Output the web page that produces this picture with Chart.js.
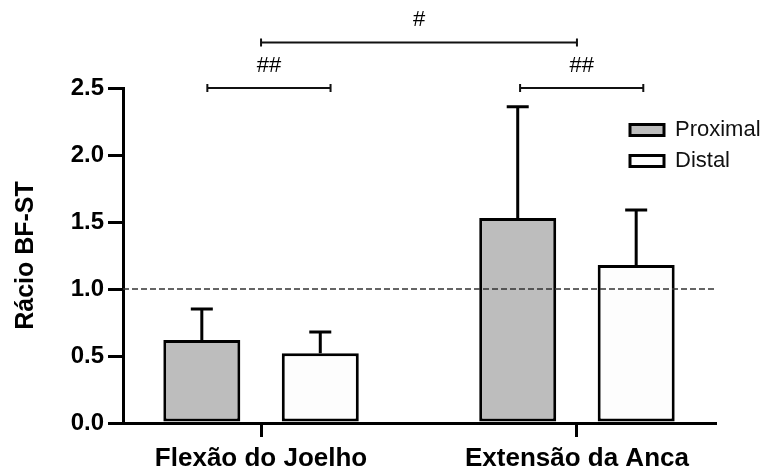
<!DOCTYPE html>
<html>
<head>
<meta charset="utf-8">
<script src="https://cdn.jsdelivr.net/npm/chart.js@4/dist/chart.umd.min.js"></script>
<style>
  html, body { margin: 0; padding: 0; background: #fff; }
  #wrap { width: 776px; height: 468px; }
</style>
</head>
<body>
<div id="wrap"><canvas id="c" width="776" height="468"></canvas></div>
<script>
const categories = ['Flexão do Joelho', 'Extensão da Anca'];
const seriesNames = ['Proximal', 'Distal'];
const proximalMean = [0.62, 1.53];
const proximalSD = [0.23, 0.83];
const distalMean = [0.52, 1.18];
const distalSD = [0.16, 0.41];
const yTicks = [0, 0.5, 1.0, 1.5, 2.0, 2.5];
const referenceValue = 1.0;
const yTitle = 'Rácio BF-ST';
// significance brackets: from/to in category units, level in y units
const brackets = [
  { from: -0.17, to: 0.22, level: 2.5, label: '##' },
  { from: 0.82, to: 1.21, level: 2.5, label: '##' },
  { from: 0, to: 1, level: 2.84, label: '#' }
];

const FONT = '"Liberation Sans", Arial, Helvetica, sans-serif';

const overlay = {
  id: 'overlay',
  afterLayout(chart) {
    const lg = chart.legend;
    if (!lg) return;
    const w = lg.width, h = lg.height;
    lg.left = 621; lg.right = lg.left + w;
    lg.top = 110; lg.bottom = lg.top + h;
  },
  afterDatasetsDraw(chart) {
    const { ctx, chartArea, scales: { x, y } } = chart;
    ctx.save();
    // reference dashed line
    const yr = y.getPixelForValue(referenceValue);
    ctx.setLineDash([6, 3]);
    ctx.lineWidth = 1.6;
    ctx.strokeStyle = '#333';
    ctx.beginPath();
    ctx.moveTo(chartArea.left, yr);
    ctx.lineTo(chartArea.right, yr);
    ctx.stroke();
    ctx.setLineDash([]);
    // error bars (upper only)
    chart.data.datasets.forEach((ds, di) => {
      const meta = chart.getDatasetMeta(di);
      meta.data.forEach((bar, i) => {
        const top = y.getPixelForValue(ds.data[i] + ds.sd[i]);
        ctx.strokeStyle = '#000';
        ctx.lineWidth = 3;
        ctx.beginPath();
        ctx.moveTo(bar.x, bar.y);
        ctx.lineTo(bar.x, top);
        ctx.moveTo(bar.x - 11, top);
        ctx.lineTo(bar.x + 11, top);
        ctx.stroke();
      });
    });
    // significance brackets
    ctx.lineWidth = 2;
    ctx.strokeStyle = '#111';
    ctx.fillStyle = '#000';
    ctx.font = '22px ' + FONT;
    ctx.textAlign = 'center';
    ctx.textBaseline = 'alphabetic';
    brackets.forEach(b => {
      const x1 = x.getPixelForValue(b.from);
      const x2 = x.getPixelForValue(b.to);
      const yy = y.getPixelForValue(b.level);
      ctx.beginPath();
      ctx.moveTo(x1, yy); ctx.lineTo(x2, yy);
      ctx.moveTo(x1, yy - 4); ctx.lineTo(x1, yy + 4);
      ctx.moveTo(x2, yy - 4); ctx.lineTo(x2, yy + 4);
      ctx.stroke();
      ctx.fillText(b.label, (x1 + x2) / 2, yy - 16);
    });
    ctx.restore();
  }
};

new Chart(document.getElementById('c'), {
  type: 'bar',
  data: {
    labels: categories.map((c, i) => i),
    datasets: [
      {
        label: seriesNames[0],
        data: proximalMean,
        sd: proximalSD,
        backgroundColor: '#bdbdbd',
        borderColor: '#000',
        borderWidth: 3,
        borderSkipped: false
      },
      {
        label: seriesNames[1],
        data: distalMean,
        sd: distalSD,
        backgroundColor: '#fdfdfd',
        borderColor: '#000',
        borderWidth: 3,
        borderSkipped: false
      }
    ]
  },
  options: {
    responsive: false,
    devicePixelRatio: 1,
    animation: false,
    categoryPercentage: 0.75,
    barPercentage: 0.65,
    layout: { padding: { top: 88, right: 61, left: 0, bottom: 0 } },
    plugins: {
      tooltip: { enabled: false },
      legend: {
        position: 'chartArea',
        align: 'start',
        labels: {
          boxWidth: 34,
          boxHeight: 11,
          padding: 9,
          color: '#111',
          font: { family: FONT, size: 22 }
        }
      }
    },
    scales: {
      x: {
        type: 'linear',
        offset: false,
        min: -0.437,
        max: 1.437,
        afterBuildTicks: s => { s.ticks = categories.map((c, i) => ({ value: i })); },
        afterFit: s => { s.height = 45; },
        ticks: {
          autoSkip: false,
          maxRotation: 0,
          callback: v => categories[v],
          color: '#000',
          padding: 6,
          font: { family: FONT, size: 26, weight: 'bold' }
        },
        grid: { offset: false, drawOnChartArea: false, tickLength: 14, lineWidth: 3, color: '#000' },
        border: { color: '#000', width: 3 }
      },
      y: {
        min: 0,
        max: 2.5,
        afterBuildTicks: s => { s.ticks = yTicks.map(v => ({ value: v })); },
        afterFit: s => { s.width = 123; },
        ticks: {
          callback: v => Number(v).toFixed(1),
          color: '#000',
          padding: 4,
          font: { family: FONT, size: 24, weight: 'bold' }
        },
        grid: { drawOnChartArea: false, tickLength: 15, lineWidth: 3, color: '#000' },
        border: { color: '#000', width: 3 },
        title: {
          display: true,
          text: yTitle,
          color: '#000',
          padding: { top: 11, bottom: 0 },
          font: { family: FONT, size: 25, weight: 'bold' }
        }
      }
    }
  },
  plugins: [overlay]
});
</script>
</body>
</html>
